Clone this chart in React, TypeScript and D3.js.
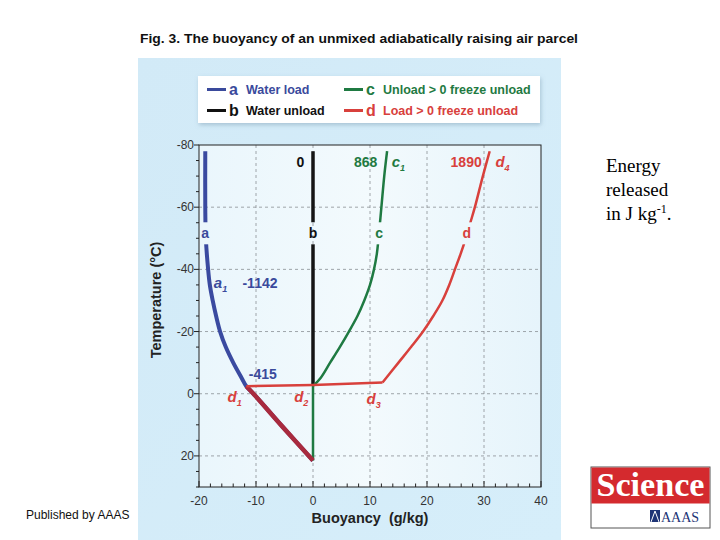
import React from "react";
import * as d3 from "d3";

// ---- data (buoyancy g/kg, temperature °C) ----
const xTicks = [-20, -10, 0, 10, 20, 30, 40];
const yTicks = [-80, -60, -40, -20, 0, 20];

const aBuoy = [-18.9, -18.9, -18.8, -18.4, -18.1, -17.6, -17.0, -16.3, -15.3, -14.0, -12.5, -11.7, -10.3, -5.4, 0];
const aTemp = [-78, -60, -50, -40, -35, -30, -25, -20, -15, -10, -5, -2.4, 0.3, 10.5, 21.5];

const bBuoy = [0, 0];
const bTemp = [-78, -2.5];

const cBuoy = [0, 0, 1.3, 3.0, 4.7, 6.3, 7.8, 9.0, 10.0, 10.7, 11.2, 11.5, 12.0, 12.5, 13.0];
const cTemp = [21.5, -2.5, -5, -10, -15, -20, -25, -30, -35, -40, -45, -50, -60, -70, -78];

const dLowBuoy = [0, -5.4, -10.3, -11.7];
const dLowTemp = [21.5, 10.5, 0.3, -2.4];
const dFlatBuoy = [-11.7, 0, 12.2];
const dFlatTemp = [-2.4, -2.8, -3.6];
const dUpBuoy = [12.2, 15.0, 17.2, 19.3, 21.1, 22.7, 23.9, 24.9, 25.9, 26.8, 27.6, 28.4, 29.8, 31.0];
const dUpTemp = [-3.6, -10, -15, -20, -25, -30, -35, -40, -45, -50, -55, -60, -70, -78];

// curve labels on the lines
const lineLabels = [
  { t: "a", x: -18.9, y: -51.6, c: "#3a4a9c" },
  { t: "b", x: 0, y: -51.6, c: "#111" },
  { t: "c", x: 11.6, y: -51.6, c: "#1f7a42" },
  { t: "d", x: 27.0, y: -51.6, c: "#d8403c" },
];
// energy values (J/kg)
const energyLabels = [
  { t: "0", x: -2.2, y: -74.4, c: "#111", anchor: "middle" },
  { t: "868", x: 11.3, y: -74.4, c: "#1f7a42", anchor: "end" },
  { t: "1890", x: 29.6, y: -74.4, c: "#d8403c", anchor: "end" },
  { t: "-1142", x: -9.3, y: -35.5, c: "#3a4a9c", anchor: "middle" },
  { t: "-415", x: -8.8, y: -6.5, c: "#3a4a9c", anchor: "middle" },
];
const subLabels = [
  { t: "c", s: "1", x: 13.8, y: -74.4, c: "#1f7a42" },
  { t: "d", s: "4", x: 32.0, y: -74.4, c: "#d8403c" },
  { t: "a", s: "1", x: -17.4, y: -35.5, c: "#3a4a9c" },
  { t: "d", s: "1", x: -15.0, y: 0.9, c: "#d8403c" },
  { t: "d", s: "2", x: -3.3, y: 0.9, c: "#d8403c" },
  { t: "d", s: "3", x: 9.4, y: 1.6, c: "#d8403c" },
];

const legendItems = [
  { k: "a", label: "Water load", c: "#3a4a9c", col: 0, row: 0 },
  { k: "b", label: "Water unload", c: "#111", col: 0, row: 1 },
  { k: "c", label: "Unload > 0 freeze unload", c: "#1f7a42", col: 1, row: 0 },
  { k: "d", label: "Load > 0 freeze unload", c: "#d8403c", col: 1, row: 1 },
];

const FONT = "'Liberation Sans', Arial, Helvetica, sans-serif";
const SERIF = "'Liberation Serif', 'Times New Roman', serif";

export default function App() {
  const x = d3.scaleLinear().domain([-20, 40]).range([199, 541]);
  const y = d3.scaleLinear().domain([-80, 30]).range([145, 487]);

  const mk = (xs: number[], ys: number[], curve: any = d3.curveCatmullRom.alpha(0.5)) =>
    d3
      .line<number>()
      .x((_, i) => x(xs[i]))
      .y((_, i) => y(ys[i]))
      .curve(curve)(xs.map((_, i) => i)) as string;

  const xMinor = d3.range(-20, 40.01, 2);
  const yMinor = d3.range(-80, 30.01, 5);

  return (
    <svg width={720} height={540} style={{ position: "absolute", left: 0, top: 0 }}>
      <defs>
        <linearGradient id="panel" x1="0" y1="0" x2="1" y2="1">
          <stop offset="0" stopColor="#d2eaf7" />
          <stop offset="1" stopColor="#d6eefa" />
        </linearGradient>
        <linearGradient id="plotbg" x1="0" y1="0" x2="1" y2="0">
          <stop offset="0" stopColor="#eaf6fc" />
          <stop offset="0.5" stopColor="#f3fafd" />
          <stop offset="1" stopColor="#e6f4fb" />
        </linearGradient>
        <filter id="shadow" x="-10%" y="-30%" width="120%" height="160%">
          <feDropShadow dx="1" dy="2" stdDeviation="2" floodColor="#7a9bb0" floodOpacity="0.5" />
        </filter>
        <mask id="gaps">
          <rect x={0} y={0} width={720} height={540} fill="white" />
          {lineLabels.map((l) => (
            <rect key={l.t} x={x(l.x) - 7} y={y(l.y) - 11} width={14} height={22} fill="black" />
          ))}
        </mask>
      </defs>
      <rect x={0} y={0} width={720} height={540} fill="white" />

      {/* title */}
      <text x={140} y={43} fontFamily={FONT} fontWeight="bold" fontSize={13.5} fill="#111" textLength={438} lengthAdjust="spacingAndGlyphs">
        Fig. 3. The buoyancy of an unmixed adiabatically raising air parcel
      </text>

      {/* panel */}
      <rect x={138} y={58} width={423} height={482} fill="url(#panel)" />
      <rect x={199} y={145} width={342} height={342} fill="url(#plotbg)" />

      {/* legend */}
      <rect x={198} y={76} width={342} height={47} fill="white" filter="url(#shadow)" />
      {legendItems.map((l) => {
        const lx = l.col === 0 ? 207 : 344;
        const ly = l.row === 0 ? 89.5 : 110.5;
        return (
          <g key={l.k}>
            <line x1={lx} x2={lx + 19} y1={ly} y2={ly} stroke={l.c} strokeWidth={3} />
            <text x={lx + 22} y={ly + 5} fontFamily={FONT} fontWeight="bold" fontSize={16} fill={l.c}>
              {l.k}
            </text>
            <text x={lx + 39} y={ly + 4.5} fontFamily={FONT} fontWeight="bold" fontSize={12.5} fill={l.c}>
              {l.label}
            </text>
          </g>
        );
      })}

      {/* grid */}
      {xTicks.slice(1, -1).map((v) => (
        <line key={"gx" + v} x1={x(v)} x2={x(v)} y1={145} y2={487} stroke="#8a8f94" strokeWidth={0.8} strokeDasharray="3,3" />
      ))}
      {yTicks.slice(1).map((v) => (
        <line key={"gy" + v} x1={199} x2={541} y1={y(v)} y2={y(v)} stroke="#8a8f94" strokeWidth={0.8} strokeDasharray="3,3" />
      ))}

      {/* frame */}
      <rect x={199} y={145} width={342} height={342} fill="none" stroke="#222" strokeWidth={1} />

      {/* ticks */}
      {xMinor.map((v) => {
        const major = Math.abs(v % 10) < 0.01;
        return <line key={"tx" + v} x1={x(v)} x2={x(v)} y1={487} y2={487 - (major ? 6 : 3.5)} stroke="#222" strokeWidth={1} />;
      })}
      {yMinor.map((v) => {
        const major = Math.abs(v % 20) < 0.01;
        return <line key={"ty" + v} x1={199} x2={199 - (major ? 5 : 3)} y1={y(v)} y2={y(v)} stroke="#222" strokeWidth={1} />;
      })}
      {xTicks.map((v) => (
        <text key={"lx" + v} x={x(v)} y={505} textAnchor="middle" fontFamily={FONT} fontSize={12} fill="#333">
          {v}
        </text>
      ))}
      {yTicks.map((v) => (
        <text key={"ly" + v} x={194} y={y(v) + 4} textAnchor="end" fontFamily={FONT} fontSize={12} fill="#333">
          {v}
        </text>
      ))}

      {/* axis titles */}
      <text
        transform={`translate(161,300) rotate(-90)`}
        textAnchor="middle"
        fontFamily={FONT}
        fontWeight="bold"
        fontSize={14.5}
        fill="#222"
      >
        Temperature (°C)
      </text>
      <text x={x(10)} y={523} textAnchor="middle" fontFamily={FONT} fontWeight="bold" fontSize={14.5} fill="#222" style={{ whiteSpace: "pre" }}>
        {"Buoyancy  (g/kg)"}
      </text>

      {/* curves */}
      <g mask="url(#gaps)" fill="none" strokeLinecap="butt" strokeLinejoin="round">
        <path d={mk(aBuoy, aTemp)} stroke="#3a4aa0" strokeWidth={4} />
        <path d={mk(bBuoy, bTemp, d3.curveLinear)} stroke="#151515" strokeWidth={3.5} />
        <path d={mk(cBuoy.slice(0, 2), cTemp.slice(0, 2), d3.curveLinear)} stroke="#1f7a42" strokeWidth={2.5} />
        <path d={mk(cBuoy.slice(1), cTemp.slice(1))} stroke="#1f7a42" strokeWidth={2.5} />
        <path d={mk(dLowBuoy, dLowTemp)} stroke="#a82a3e" strokeWidth={4.5} />
        <path d={mk(dFlatBuoy, dFlatTemp, d3.curveLinear)} stroke="#d8403c" strokeWidth={2.5} />
        <path d={mk(dUpBuoy, dUpTemp)} stroke="#d8403c" strokeWidth={2.5} />
      </g>

      {lineLabels.map((l) => (
        <text key={"ll" + l.t} x={x(l.x)} y={y(l.y) + 5} textAnchor="middle" fontFamily={FONT} fontWeight="bold" fontSize={14} fill={l.c}>
          {l.t}
        </text>
      ))}
      {energyLabels.map((l) => (
        <text key={"el" + l.t} x={x(l.x)} y={y(l.y) + 5} textAnchor={l.anchor as any} fontFamily={FONT} fontWeight="bold" fontSize={14} fill={l.c}>
          {l.t}
        </text>
      ))}
      {subLabels.map((l, i) => (
        <text key={"sl" + i} x={x(l.x)} y={y(l.y) + 5} fontFamily={FONT} fontWeight="bold" fontStyle="italic" fontSize={15} fill={l.c}>
          {l.t}
          <tspan fontSize={9} dy={4}>
            {l.s}
          </tspan>
        </text>
      ))}

      {/* right side note */}
      <text fontFamily={SERIF} fontSize={19} fill="#000">
        <tspan x={606} y={172}>Energy</tspan>
        <tspan x={606} y={196}>released</tspan>
        <tspan x={606} y={220}>in J kg</tspan>
        <tspan fontSize={12} dy={-7}>-1</tspan>
        <tspan dy={7}>.</tspan>
      </text>

      {/* footer */}
      <text x={26} y={519} fontFamily={FONT} fontSize={12} fill="#111">
        Published by AAAS
      </text>

      {/* Science logo */}
      <rect x={591} y={467} width={119} height={61} fill="white" stroke="#555" strokeWidth={1} />
      <rect x={591.5} y={467.5} width={118} height={36} fill="#d42a2e" />
      <text x={650.5} y={496} textAnchor="middle" fontFamily={SERIF} fontWeight="bold" fontSize={33} fill="white" textLength={108} lengthAdjust="spacingAndGlyphs">
        Science
      </text>
      <rect x={650} y={510} width={10} height={12} fill="#1e3476" />
      <path d="M651,522 L655,511 L659,522" fill="none" stroke="white" strokeWidth={1} />
      <text x={661} y={522} fontFamily={SERIF} fontSize={14} fill="#1e3476">
        AAAS
      </text>
    </svg>
  );
}
